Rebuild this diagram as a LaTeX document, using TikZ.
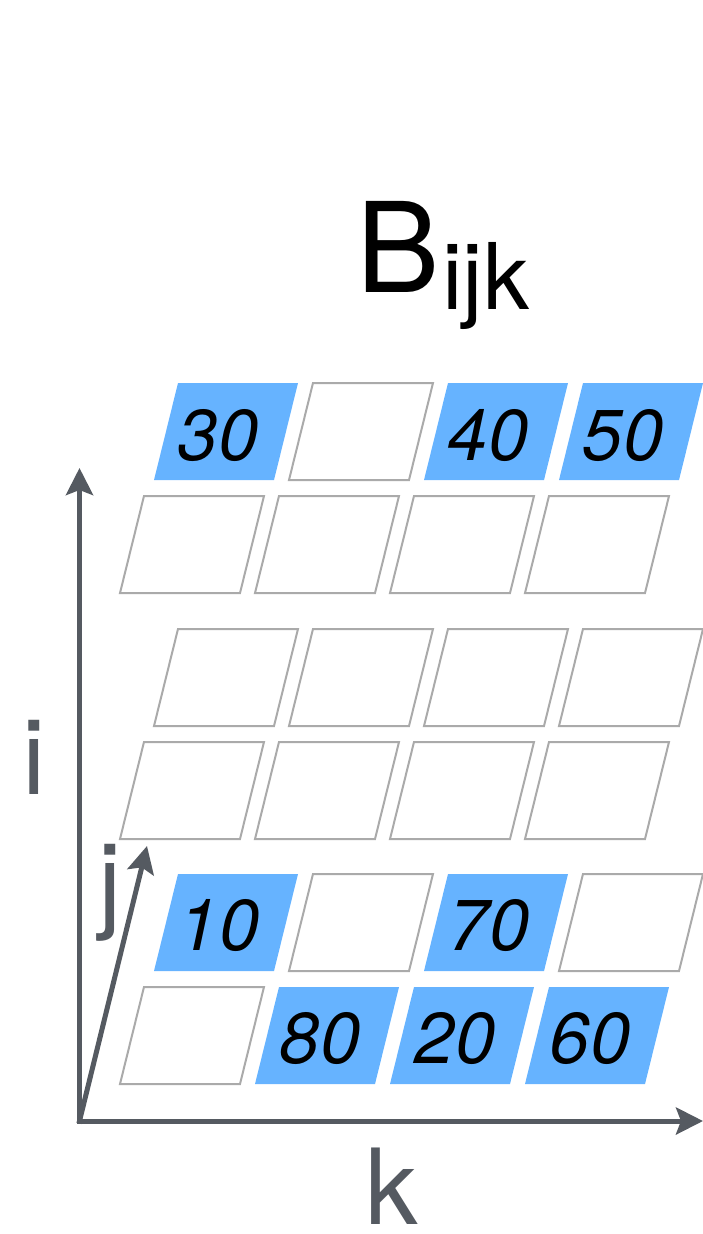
\documentclass[tikz,border=0pt]{standalone}
\usepackage{fontspec}
\setmainfont{TeX Gyre Heros}
\usetikzlibrary{arrows.meta}
\definecolor{cellblue}{RGB}{102,179,255}
\definecolor{cellgray}{RGB}{170,170,170}
\definecolor{axisgray}{RGB}{85,90,97}
\tikzset{
  emptycell/.style={draw=cellgray, line width=2pt},
  fullcell/.style={fill=cellblue},
  axis/.style={draw=axisgray, line width=5pt, line cap=rect, -{Stealth[length=27pt,width=27pt,inset=5pt]}},
  numlabel/.style={anchor=base, inner sep=0pt, font=\fontsize{72}{80}\selectfont\itshape},
  axlabel/.style={anchor=base, inner sep=0pt, text depth=0pt, text=axisgray, font=\fontsize{105}{110}\selectfont},
}
\newcommand\mycell[3]{% #1 bx, #2 bottom, #3 style
  \path[#3] (#1,#2) -- ++(120,0) -- ++(24,-97) -- ++(-120,0) -- cycle;}
\begin{document}
\begin{tikzpicture}[x=1pt,y=-1pt]
\useasboundingbox (0,0) rectangle (703,1234);
% title
\node[anchor=base west, inner sep=0pt, font=\fontsize{125}{130}\selectfont] (B) at (356,292) {B};
\node[anchor=base west, inner sep=0pt, font=\fontsize{92}{96}\selectfont] (ijk) at (442,309) {ijk};
% row 1 (top slice, back)
\mycell{154}{480}{fullcell}
\mycell{289}{480}{emptycell}
\mycell{424}{480}{fullcell}
\mycell{559}{480}{fullcell}
% row 2
\foreach \c in {0,1,2,3} {\mycell{120+135*\c}{593}{emptycell}}
% row 3
\foreach \c in {0,1,2,3} {\mycell{154+135*\c}{726}{emptycell}}
% row 4
\foreach \c in {0,1,2,3} {\mycell{120+135*\c}{839}{emptycell}}
% row 5
\mycell{154}{971}{fullcell}
\mycell{289}{971}{emptycell}
\mycell{424}{971}{fullcell}
\mycell{559}{971}{emptycell}
% row 6
\mycell{120}{1084}{emptycell}
\mycell{255}{1084}{fullcell}
\mycell{390}{1084}{fullcell}
\mycell{525}{1084}{fullcell}
% numbers
\node[numlabel] (v30) at (154+64,480-20) {30};
\node[numlabel] (v40) at (424+64,480-20) {40};
\node[numlabel] (v50) at (559+64,480-20) {50};
\node[numlabel] (v10) at (154+65,971-21) {10};
\node[numlabel] (v70) at (424+65,971-21) {70};
\node[numlabel] (v80) at (255+65,1084-21) {80};
\node[numlabel] (v20) at (390+65,1084-21) {20};
\node[numlabel] (v60) at (525+65,1084-21) {60};
% axes
\coordinate (O) at (79.5,1121);
\coordinate (itip) at (79.5,468);
\coordinate (jtip) at (147,846);
\coordinate (ktip) at (703,1121);
\draw[axis] (O) -- (itip);
\draw[axis] (O) -- (jtip);
\draw[axis] (O) -- (ktip);
\node[axlabel] (li) at (34,794) {i};
\node[axlabel] (lj) at (110,918) {j};
\node[axlabel] (lk) at (392,1224) {k};
\end{tikzpicture}
\end{document}
